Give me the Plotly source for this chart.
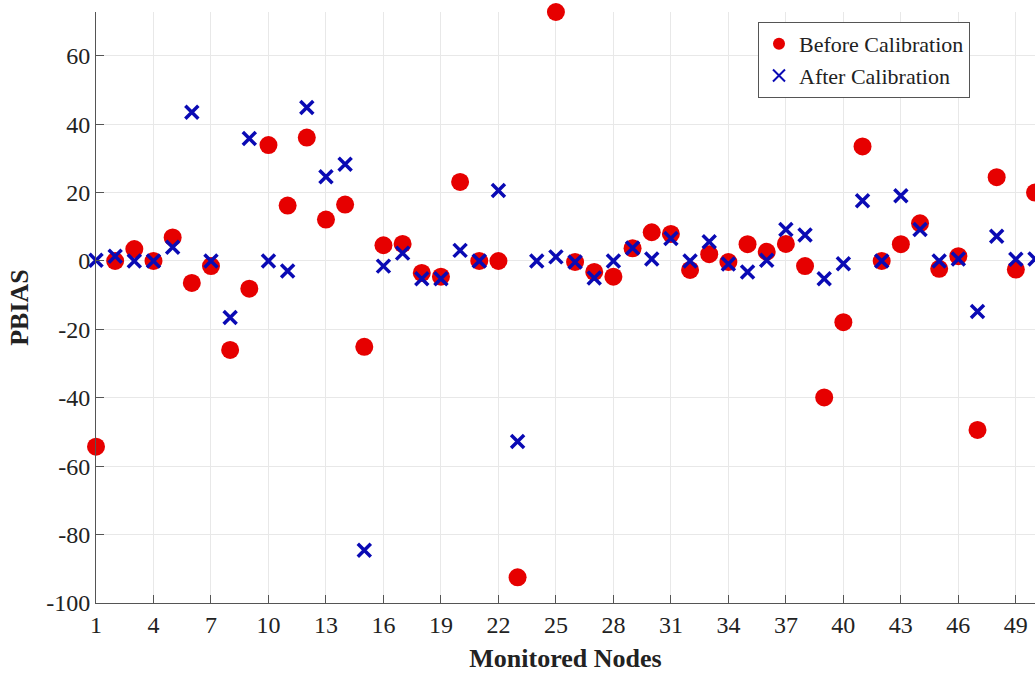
import plotly.graph_objects as go

# PBIAS per monitored node, before and after model calibration
nodes = list(range(1, 51))
before_calibration = [
    -54.3, 0.0, 3.5, 0.0, 6.9, -6.4, -1.5, -26.0, -8.1, 33.9,
    16.2, 36.1, 12.1, 16.5, -25.1, 4.6, 5.0, -3.5, -4.6, 23.1,
    0.0, 0.0, -92.5, None, 72.8, -0.3, -3.2, -4.6, 3.7, 8.4,
    7.9, -2.6, 2.0, -0.3, 4.9, 2.7, 5.0, -1.5, -39.9, -17.9,
    33.5, 0.0, 4.9, 11.0, -2.3, 1.4, -49.4, 24.5, -2.5, 20.0,
]
after_calibration = [
    0.2, 1.4, 0.0, 0.0, 4.0, 43.5, 0.0, -16.5, 35.8, 0.0,
    -2.9, 44.9, 24.6, 28.3, -84.6, -1.5, 2.3, -5.2, -5.2, 3.1,
    0.0, 20.6, -52.8, 0.0, 1.2, -0.3, -5.0, 0.0, 3.8, 0.6,
    6.6, 0.0, 5.6, -0.9, -3.2, 0.2, 9.2, 7.6, -5.2, -0.8,
    17.6, 0.0, 19.1, 9.2, 0.0, 0.6, -14.8, 7.2, 0.5, 0.6,
]
x_ticks = list(range(1, 50, 3))
y_ticks = list(range(-100, 61, 20))
y_tick_labels = [str(v) for v in y_ticks]  # plain hyphen for negatives

FONT = "Liberation Serif, Times New Roman, serif"

fig = go.Figure()
fig.add_trace(go.Scatter(
    x=nodes, y=before_calibration, mode="markers", name="Before Calibration",
    marker=dict(symbol="circle", size=18, color="#E60000", line=dict(width=0)),
    cliponaxis=False,
))
fig.add_trace(go.Scatter(
    x=nodes, y=after_calibration, mode="markers", name="After Calibration",
    marker=dict(symbol="x-thin", size=13, color="#0A0AB4",
                line=dict(width=3.5, color="#0A0AB4")),
    cliponaxis=False,
))

fig.update_layout(
    width=1035, height=678,
    margin=dict(l=96, r=0, t=12, b=75),
    paper_bgcolor="white", plot_bgcolor="white",
    font=dict(family=FONT, size=24, color="#222222"),
    showlegend=True,
    legend=dict(
        x=0.705, y=0.983, xanchor="left", yanchor="top",
        bgcolor="white", bordercolor="#555555", borderwidth=1,
        font=dict(family=FONT, size=22, color="#222222"),
        itemsizing="constant", tracegroupgap=0,
    ),
    xaxis=dict(
        range=[1, 50], tickmode="array", tickvals=x_ticks,
        ticks="inside", ticklen=8, tickcolor="#555555",
        showgrid=True, gridcolor="#E8E8E8", gridwidth=1,
        showline=True, linecolor="#555555", linewidth=1,
        zeroline=False,
        title=dict(text="<b>Monitored Nodes</b>", font=dict(family=FONT, size=26), standoff=12),
    ),
    yaxis=dict(
        range=[-100, 72.8], tickmode="array", tickvals=y_ticks, ticktext=y_tick_labels,
        ticks="inside", ticklen=8, tickcolor="#555555",
        showgrid=True, gridcolor="#E8E8E8", gridwidth=1,
        showline=True, linecolor="#555555", linewidth=1,
        zeroline=False,
        title=dict(text="<b>PBIAS</b>", font=dict(family=FONT, size=26), standoff=10),
    ),
)

fig.write_html("out.html")
